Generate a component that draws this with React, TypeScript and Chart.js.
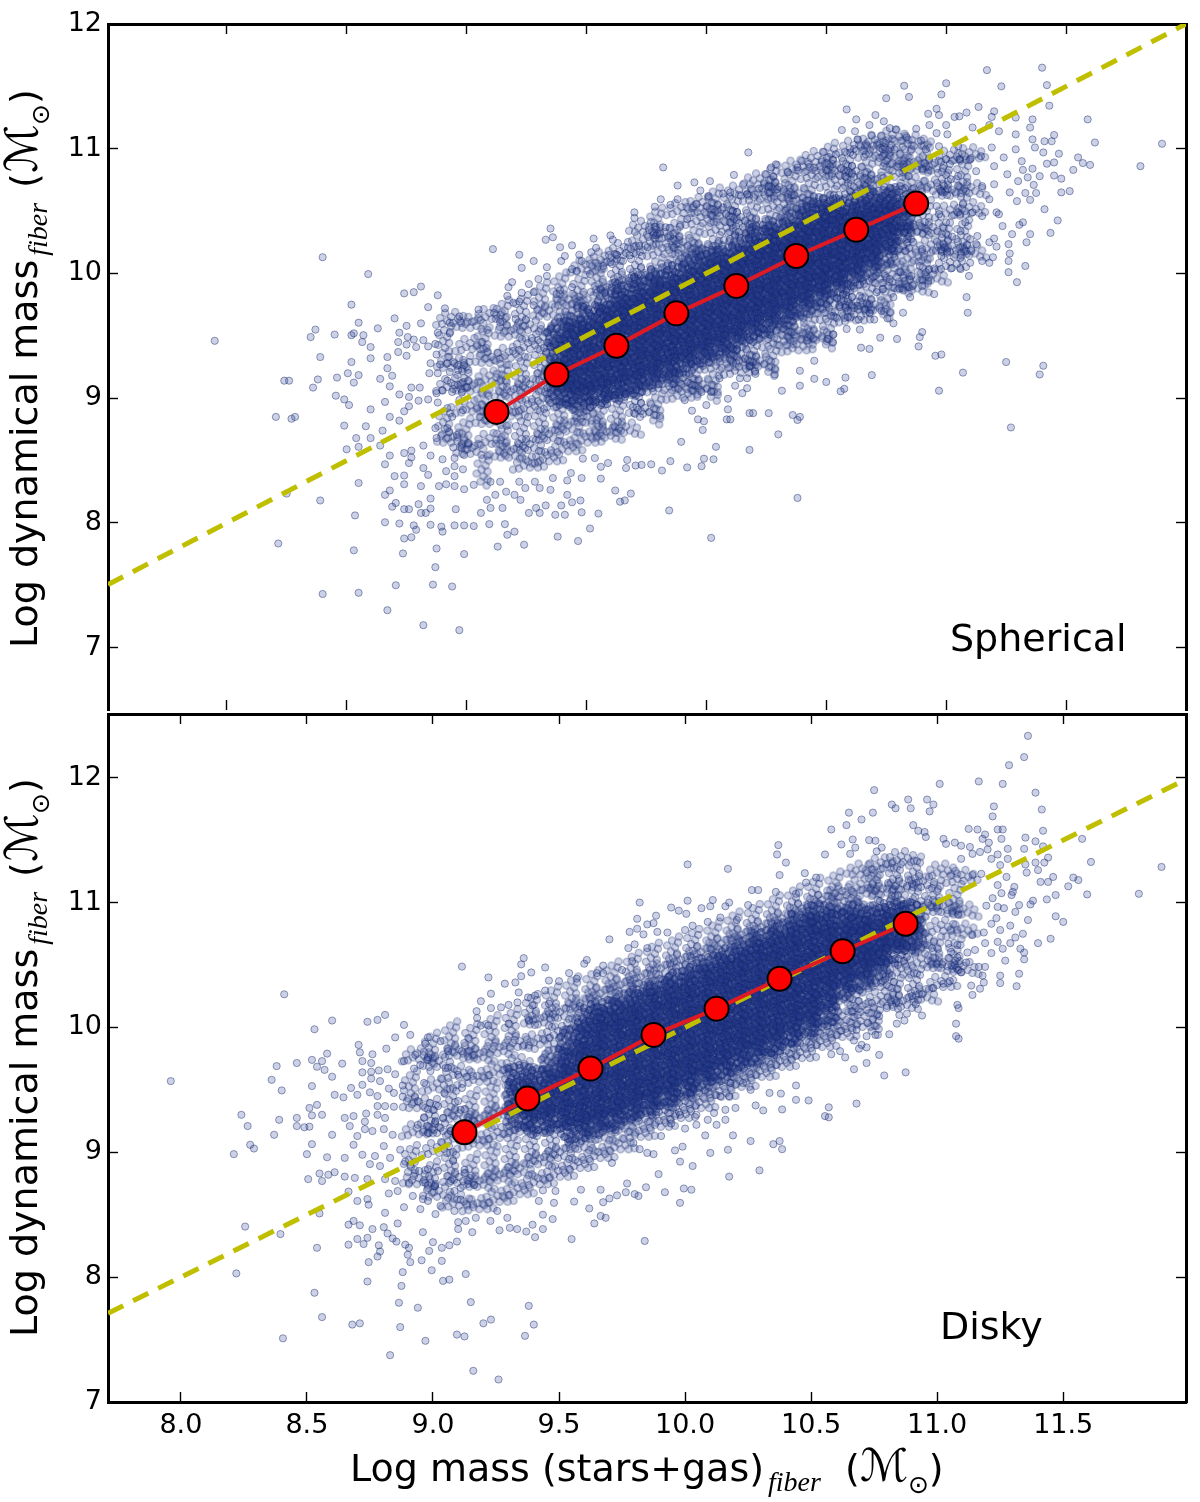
import React, { useEffect, useRef } from "react";
import { Chart, registerables } from "chart.js";
Chart.register(...registerables);

const medianX = [9.125, 9.375, 9.625, 9.875, 10.125, 10.375, 10.625, 10.875];
const topMedianY = [8.89, 9.19, 9.42, 9.68, 9.9, 10.14, 10.35, 10.56];
const bottomMedianY = [9.16, 9.43, 9.67, 9.94, 10.15, 10.39, 10.61, 10.83];
const xTickValues = [8, 8.5, 9, 9.5, 10, 10.5, 11, 11.5];
const topYTicks = [7, 8, 9, 10, 11, 12];
const bottomYTicks = [7, 8, 9, 10, 11, 12];

// x,y pairs
const topFringe = [
8.40,10.13,8.59,9.995,7.95,9.46,8.74,9.84,8.78,9.85,8.81,9.895,8.88,9.825,8.52,9.75,8.84,9.73,8.91,9.72,8.70,9.64,8.55,9.605,8.63,9.56,8.75,9.58,8.81,9.60,8.37,9.55,8.35,9.49,8.45,9.51,8.52,9.505,8.53,9.52,8.57,9.505,8.565,9.45,8.60,9.41,8.72,9.525,8.755,9.49,8.715,9.45,8.75,9.43,8.78,9.47,8.82,9.465,8.79,9.41,8.84,9.415,8.87,9.435,8.88,9.525,8.93,9.605,8.97,9.655,8.93,9.52,8.715,9.37,8.75,9.34,8.67,9.33,8.60,9.32,8.39,9.33,8.52,9.29,8.67,9.24,8.69,9.18,8.505,9.20,8.55,9.185,8.53,9.125,8.46,9.165,8.38,9.15,8.36,9.085,8.24,9.14,8.26,9.14,8.64,9.155,8.68,9.095,8.455,9.02,8.49,8.99,8.51,8.945,8.60,8.91,8.205,8.85,8.27,8.835,8.285,8.85,8.49,8.78,8.58,8.775,8.65,8.74,8.54,8.68,8.60,8.68,8.55,8.61,8.50,8.59,8.64,8.62,8.68,8.85,8.72,8.82,8.66,8.97,8.72,9.03,8.76,9.01,8.80,8.98,8.84,8.99,8.76,8.935,8.74,8.895,8.805,9.085,8.77,9.085,8.68,8.54,8.66,8.47,8.74,8.56,8.77,8.58,8.77,8.525,8.76,8.48,8.82,8.62,8.85,8.54,8.90,8.51,8.82,8.44,8.84,8.385,8.74,8.38,8.70,8.375,8.74,8.31,8.81,8.295,8.55,8.32,8.39,8.18,8.25,8.235,8.68,8.26,8.66,8.225,8.85,8.195,8.535,8.06,8.705,8.16,8.69,8.13,8.74,8.11,8.76,8.11,8.80,8.15,8.85,8.115,8.81,8.08,8.83,8.08,8.955,8.11,8.66,8.005,8.72,7.995,8.78,7.98,8.79,7.945,8.85,7.985,8.895,7.97,8.90,7.93,8.95,7.98,8.99,7.98,8.74,7.875,8.77,7.885,8.215,7.835,8.53,7.78,8.735,7.755,8.875,7.795,8.99,7.75,8.87,7.645,8.705,7.5,8.86,7.505,8.94,7.49,8.40,7.43,8.55,7.44,8.67,7.30,8.82,7.18,8.97,7.14,
8.85,9.28,8.875,9.35,8.89,9.27,8.92,9.28,8.95,9.28,8.99,9.265,8.93,9.21,8.965,9.225,8.88,9.20,8.845,9.20,8.92,9.14,8.95,9.105,8.875,9.04,8.90,9.06,8.94,9.05,8.98,9.045,8.88,8.965,8.92,8.92,8.94,8.85,8.97,8.985,8.985,8.905,8.87,8.76,8.92,8.76,8.96,8.705,8.98,8.60,8.875,8.68,8.945,8.605,8.95,8.52,8.99,8.545,8.915,8.415,8.95,8.455,8.985,8.43,8.95,8.375,8.885,8.295,8.915,8.31,8.95,8.295,8.99,8.27,
9.11,10.195,9.22,10.15,9.28,10.10,9.23,10.045,9.35,10.36,9.36,10.29,9.33,10.27,9.39,10.21,9.44,10.225,9.53,10.28,9.54,10.205,9.60,10.305,9.61,10.27,9.41,10.14,9.395,10.10,9.47,10.15,9.52,10.17,9.48,10.10,9.335,10.05,9.44,10.035,9.30,9.955,9.335,9.98,9.19,9.93,9.175,9.89,9.26,9.915,9.28,9.85,9.17,9.82,9.23,9.845,9.195,9.765,9.22,9.775,9.28,9.745,9.05,9.71,9.115,9.685,9.14,9.61,9.205,9.635,9.70,10.49,9.70,10.445,9.82,10.85,9.785,10.535,9.81,10.595,9.85,10.55,9.88,10.705,9.95,10.73,10.015,10.74,9.975,10.665,10.115,10.79,10.175,10.97,10.29,10.875,10.27,10.85,10.38,10.85,10.34,10.81,10.45,10.85,10.28,10.775,10.07,10.64,10.10,10.65,10.01,10.62,9.88,10.595,10.17,10.635,10.22,10.68,10.295,10.675,10.26,10.695,9.96,10.555,10.07,10.53,10.11,10.50,9.785,10.375,9.79,10.305,9.83,10.37,9.85,10.30,9.89,10.375,9.92,10.435,9.72,10.22,9.755,10.21,9.625,10.15,9.68,10.145,9.57,10.06,9.60,10.09,9.515,9.995,9.46,10.02,9.39,9.865,9.44,9.89,9.375,9.835,
10.45,9.30,10.39,9.22,10.45,9.155,10.39,9.10,10.315,9.06,10.285,9.19,10.205,9.195,10.18,9.26,10.14,9.16,10.17,9.16,10.12,9.10,10.17,9.08,10.15,9.04,10.09,8.995,10.09,8.91,10.26,8.88,10.18,8.88,10.195,8.88,10.36,8.865,10.39,8.85,10.38,8.825,10.30,8.71,10.18,8.585,10.085,8.83,10.10,8.83,9.94,8.90,9.965,8.83,9.99,8.815,9.985,8.745,10.0,8.945,10.055,9.16,10.02,9.05,9.98,9.05,9.91,8.985,9.895,8.65,10.04,8.61,9.99,8.515,10.03,8.51,9.98,8.455,9.92,8.445,9.85,8.495,9.815,8.42,9.77,8.47,9.73,8.465,9.705,8.46,9.665,8.44,9.67,8.505,9.59,8.48,9.56,8.45,9.535,8.52,9.485,8.515,9.435,8.40,9.48,8.36,9.56,8.355,9.42,8.34,9.36,8.36,9.35,8.265,9.62,8.26,9.685,8.235,9.66,8.18,9.64,8.17,9.475,8.18,9.44,8.165,9.42,8.225,9.395,8.14,9.48,8.085,9.55,8.075,9.41,8.065,9.37,8.065,9.33,8.14,9.29,8.12,9.26,8.08,9.305,8.08,9.515,7.955,9.845,8.10,10.38,8.20,10.02,7.88,9.38,7.89,9.465,7.855,9.20,7.93,9.17,7.905,9.16,7.99,9.095,7.99,9.03,7.975,9.06,8.08,9.15,8.12,9.10,8.12,9.225,8.185,9.20,8.225,9.085,8.185,9.12,8.225,9.165,8.25,9.245,8.28,9.285,8.33,9.305,8.28,9.22,8.33,9.14,8.33,9.03,8.305,9.10,8.33,9.13,7.81,9.24,7.825,
11.17,11.63,11.40,11.65,11.42,11.51,11.23,11.50,11.0,11.525,10.98,11.435,10.825,11.505,10.845,11.415,10.75,11.405,10.585,11.315,10.705,11.27,10.625,11.235,10.565,11.15,10.62,11.14,10.68,11.19,10.63,11.075,10.69,11.105,10.74,11.22,10.765,11.165,10.79,11.155,10.875,11.16,10.835,11.09,10.895,11.065,10.96,11.32,10.925,11.28,10.97,11.27,10.93,11.19,11.0,11.19,11.035,11.255,11.085,11.29,11.055,11.26,11.135,11.335,11.20,11.30,11.19,11.255,11.43,11.345,11.29,11.25,11.36,11.235,11.59,11.235,11.35,11.17,11.22,11.14,11.11,11.17,11.18,11.19,11.29,11.115,11.36,11.075,11.41,11.06,11.44,11.06,11.45,11.11,11.62,11.05,11.90,11.04,11.81,10.86,11.55,10.93,11.57,10.885,11.60,10.87,11.53,10.83,11.47,10.96,11.45,10.89,11.42,10.88,11.405,10.97,11.37,11.01,11.29,10.995,11.24,10.93,11.315,10.90,11.36,10.84,11.32,10.83,11.255,10.795,11.39,10.78,11.45,10.785,11.48,10.76,11.34,10.77,11.30,10.74,11.365,10.71,11.33,10.645,11.375,10.645,11.48,10.65,11.515,10.66,11.35,10.59,11.295,10.58,11.265,10.65,11.41,10.515,11.465,10.425,11.435,10.325,11.35,10.315,11.32,10.41,11.305,10.39,11.335,10.25,11.275,10.315,11.235,10.38,11.21,10.49,11.18,10.595,11.26,10.235,11.265,10.16,11.26,10.10,11.33,10.06,11.26,10.01,11.295,9.93,11.195,10.13,11.15,10.10,11.18,10.085,11.10,10.085,11.105,10.18,11.075,10.195,11.06,10.125,11.125,10.235,11.18,10.25,11.21,10.215,11.20,10.28,11.13,10.30,11.10,10.275,11.06,10.34,11.025,10.295,11.005,10.175,10.98,10.14,11.02,10.04,11.06,10.035,11.095,9.98,10.95,10.04,10.89,10.06,10.925,9.94,10.95,9.835,11.085,9.81,11.09,9.685,10.85,9.81,10.805,9.88,10.78,9.81,10.82,9.685,10.78,9.60,10.73,9.70,10.755,9.64,10.70,9.63,10.68,9.685,10.63,9.74,10.59,9.65,10.635,9.63,10.64,9.55,10.585,9.555,10.53,9.51,10.505,9.475,10.725,9.485,10.795,9.475,10.90,9.53,10.89,9.49,10.885,9.415,10.645,9.405,10.68,9.395,10.955,9.34,10.98,9.35,11.25,9.29,11.405,9.26,11.39,9.19,11.07,9.205,10.69,9.185,10.58,9.165,10.575,9.075,10.56,9.055,10.50,9.13,10.97,9.06,11.27,8.765,
11.10,10.915,11.145,10.94,11.19,11.01,11.20,10.86,11.125,10.82,11.15,10.70,11.20,10.715,11.07,10.555,11.05,10.49,11.0,10.41,10.97,10.475,11.15,10.46,11.22,10.475,11.11,10.49,11.08,10.41,11.055,10.915,11.02,10.755,11.05,10.78,10.985,10.65,10.96,10.54,11.0,10.915,10.96,11.125,11.005,11.115,11.05,11.02,10.97,11.02,10.915,10.995,10.855,10.995,10.785,10.995,10.735,10.995,10.665,10.955,10.6,10.97,10.54,10.955,10.90,10.195,10.99,10.21,10.86,9.90,10.90,9.90,10.915,10.01,10.855,9.98,10.81,10.01,10.735,9.875,10.68,9.755,10.64,9.82,10.585,9.85,10.53,9.66,10.555,9.745,10.71,9.85,10.765,9.955
];

const topMidX = [8.94,9.02,9.10,9.18,9.26,9.34,9.42,9.50,9.58,9.66,9.74,9.82,9.90,9.98,10.06,10.14,10.22,10.30,10.38,10.46,10.54,10.62,10.70,10.78,10.86,10.94,11.02,11.10];
const topMidY = [
[8.62,8.8,9.05,9.22,9.45,9.58],[8.53,8.71,8.87,9.03,9.21,9.37,9.54],[8.42,8.61,8.77,8.94,9.11,9.26,9.44,9.61],[8.5,8.66,8.83,8.98,9.14,9.3,9.47,9.66],
[8.42,8.56,8.72,8.88,9.04,9.2,9.37,9.52,9.7],[8.47,8.64,8.8,8.96,9.12,9.29,9.45,9.63,9.8],[8.55,8.71,8.87,9.03,9.2,9.38,9.55,9.72,9.88],[8.62,8.78,8.93,9.1,9.72,9.86,10.0],
[8.66,8.82,8.97,9.82,9.96,10.07],[8.7,8.86,9.01,9.88,10.02,10.14],[8.85,8.97,9.08,9.93,10.06,10.2,10.31],[8.91,9.04,9.14,10.0,10.13,10.26,10.4],
[8.98,9.09,9.2,10.05,10.18,10.31,10.46],[9.04,9.15,9.26,10.12,10.25,10.38,10.5],[9.1,9.22,9.33,10.18,10.31,10.44,10.56],[9.18,9.28,9.4,10.26,10.38,10.5,10.6],
[9.23,9.34,9.45,10.32,10.45,10.57,10.69],[9.3,9.4,9.52,10.38,10.5,10.62,10.74],[9.36,9.47,9.58,10.45,10.57,10.7,10.8],[9.44,9.55,9.66,10.5,10.63,10.75,10.87],
[9.52,9.62,9.73,10.55,10.68,10.8,10.92],[9.6,9.7,9.82,10.62,10.75,10.87,10.96],[9.68,9.8,9.9,10.68,10.8,10.92,11.0],[9.76,9.86,9.97,10.55,10.75,10.86,10.95,11.04],
[9.84,9.96,10.08,10.3,10.5,10.66,10.82,10.9,11.0],[9.92,10.04,10.16,10.3,10.46,10.64,10.8,10.93],[10.02,10.15,10.28,10.44,10.6,10.75,10.88],[10.12,10.3,10.46,10.62,10.78,10.9]
];
const topCoreX = [9.40,9.47,9.54,9.61,9.68,9.75,9.82,9.89,9.96,10.03,10.10,10.17,10.24,10.31,10.38,10.45,10.52,10.59,10.66,10.73,10.80];
const topCoreY = [
[9.05,9.2,9.35,9.5],[9.02,9.18,9.32,9.46,9.6],[9.05,9.2,9.34,9.48,9.62],[9.1,9.24,9.38,9.52,9.64,9.76],
[9.14,9.28,9.41,9.55,9.68,9.81],[9.2,9.33,9.47,9.6,9.73,9.86],[9.27,9.4,9.53,9.66,9.79,9.92],[9.31,9.45,9.58,9.71,9.84,9.97],
[9.38,9.51,9.64,9.77,9.9,10.03],[9.44,9.57,9.7,9.83,9.96,10.09],[9.5,9.63,9.76,9.89,10.01,10.13],[9.57,9.7,9.83,9.95,10.08,10.2],
[9.63,9.76,9.88,10.01,10.14,10.26],[9.7,9.83,9.96,10.08,10.2,10.32],[9.76,9.9,10.02,10.15,10.27,10.39],[9.84,9.96,10.09,10.21,10.33,10.45],
[9.92,10.03,10.15,10.27,10.39,10.5],[10.0,10.12,10.24,10.37,10.49],[10.08,10.2,10.33,10.44,10.56],[10.17,10.3,10.42,10.55],[10.3,10.45,10.58]
];

const bottomFringe = [
8.41,10.265,7.96,9.57,8.53,9.985,8.60,10.055,8.74,10.045,8.78,10.06,8.81,10.10,8.885,10.02,8.91,9.94,8.85,9.92,8.98,9.92,8.97,9.87,8.705,9.86,8.815,9.83,8.71,9.80,8.76,9.785,8.58,9.79,8.52,9.74,8.56,9.73,8.46,9.715,8.38,9.69,8.54,9.685,8.57,9.66,8.64,9.71,8.60,9.605,8.36,9.58,8.40,9.495,8.52,9.53,8.72,9.73,8.755,9.715,8.72,9.64,8.755,9.645,8.785,9.655,8.82,9.665,8.85,9.625,8.885,9.73,8.925,9.67,8.95,9.70,8.93,9.78,8.98,9.76,8.99,9.65,8.755,9.59,8.79,9.57,8.72,9.54,8.675,9.515,8.61,9.46,8.645,9.44,8.70,9.46,8.75,9.48,8.78,9.45,8.825,9.51,8.88,9.535,8.845,9.475,8.88,9.445,8.78,9.37,8.81,9.37,8.845,9.365,8.24,9.30,8.265,9.21,8.39,9.26,8.37,9.14,8.51,9.355,8.54,9.38,8.52,9.295,8.56,9.30,8.46,9.275,8.46,9.21,8.49,9.20,8.51,9.205,8.60,9.14,8.65,9.275,8.685,9.29,8.67,9.21,8.735,9.31,8.78,9.30,8.81,9.275,8.73,9.245,8.73,9.185,8.76,9.17,8.805,9.185,8.84,9.14,8.70,9.13,8.685,9.06,8.52,9.065,8.275,9.06,8.29,9.03,8.21,8.985,8.50,8.985,8.58,8.96,8.65,8.955,8.72,8.98,8.77,8.97,8.805,9.05,8.83,8.955,8.75,8.905,8.79,8.89,8.87,9.02,8.89,8.925,8.91,8.90,8.945,8.85,8.55,8.83,8.505,8.785,8.56,8.77,8.585,8.82,8.61,8.84,8.65,8.805,8.69,8.795,8.74,8.785,8.81,8.785,8.85,8.77,8.665,8.685,8.70,8.61,8.74,8.625,8.745,8.58,8.825,8.67,8.86,8.69,8.905,8.755,8.92,8.65,8.96,8.625,8.885,8.56,8.81,8.515,8.86,8.43,8.55,8.51,8.395,8.345,8.255,8.405,8.685,8.45,8.665,8.42,8.71,8.415,8.76,8.385,8.805,8.40,8.82,8.35,8.84,8.31,8.855,8.285,8.74,8.315,8.70,8.305,8.725,8.265,8.665,8.26,8.54,8.235,8.785,8.255,8.79,8.205,8.78,8.165,8.745,8.12,8.89,8.26,8.905,8.235,8.90,8.18,8.91,8.12,8.96,8.36,9.0,8.28,8.985,8.21,8.955,8.135,9.035,8.235,9.065,8.255,9.095,8.285,9.035,8.13,8.22,8.03,8.53,7.875,8.74,7.965,8.88,8.04,8.875,7.93,8.995,8.055,9.04,7.97,9.065,7.98,9.13,8.025,8.865,7.795,8.94,7.755,8.56,7.68,8.68,7.62,8.71,7.63,8.87,7.60,8.97,7.49,8.405,7.51,8.83,7.375,9.095,7.54,9.125,7.525,9.115,10.487,9.16,7.25,9.26,7.18,9.365,7.53,9.40,7.62,9.38,7.77,9.23,7.66,9.20,7.63,9.15,7.8,
8.965,9.28,9.01,9.25,9.04,9.275,9.07,9.17,8.98,9.155,8.94,9.22,9.03,9.195,9.11,9.34,9.10,9.41,9.02,9.37,8.94,9.41,8.965,9.555,9.045,9.475,9.05,9.675,9.06,9.81,9.03,9.89,9.10,9.62,9.115,9.515,9.115,9.81,9.02,8.85,9.08,8.93,8.98,8.865,9.01,8.745,8.97,8.755,9.07,8.77,9.11,8.715,9.085,8.69,9.125,8.86,8.98,8.61,8.95,8.545,9.03,8.57,9.085,8.53,9.11,8.62,9.01,8.505,9.10,8.44,9.10,8.385,9.13,8.45,
10.37,11.46,10.365,11.385,10.40,11.32,10.01,11.305,10.17,11.27,10.375,11.22,10.555,11.385,10.475,11.235,10.52,11.20,10.48,11.16,10.265,11.10,10.29,11.10,10.36,11.085,10.44,11.07,10.01,11.015,10.11,11.02,10.175,11.0,9.82,11.0,9.945,10.96,9.975,10.935,10.005,10.91,10.065,10.955,10.10,10.97,10.16,10.97,10.25,10.98,9.81,10.87,9.885,10.895,9.875,10.835,9.85,10.825,9.78,10.765,9.81,10.79,9.835,10.745,9.89,10.765,9.93,10.76,9.70,10.705,10.0,10.78,10.03,10.815,10.09,10.845,10.14,10.88,10.205,10.86,9.775,10.635,9.80,10.665,9.85,10.635,9.36,10.555,9.35,10.505,9.445,10.48,9.61,10.54,9.60,10.51,9.22,10.40,9.285,10.35,9.327,10.36,9.35,10.41,9.39,10.44,9.54,10.435,9.675,10.495,9.65,10.435,9.57,10.39,9.675,10.435,9.75,10.46,9.79,10.53,9.46,10.375,9.50,10.37,9.445,10.295,9.34,10.28,9.19,10.21,9.23,10.27,9.377,10.24,9.405,10.255,9.335,10.20,9.395,10.175,9.46,10.19,9.23,10.155,9.27,10.16,9.30,10.18,9.173,10.13,9.175,10.075,9.19,10.015,9.22,10.015,9.30,10.03,9.38,10.06,9.14,9.915,
10.44,9.535,10.49,9.415,10.44,9.42,10.38,9.47,10.385,9.343,10.555,9.29,10.335,9.475,10.31,9.335,10.28,9.375,10.26,9.50,10.23,9.555,10.18,9.555,10.20,9.355,10.16,9.34,10.175,9.45,10.14,9.45,10.115,9.315,10.16,9.26,10.09,9.26,10.045,9.30,9.98,9.30,10.045,9.22,10.125,9.22,10.0,9.19,9.945,9.23,9.905,9.13,10.08,9.135,10.19,9.135,10.26,9.09,10.35,9.065,10.375,9.09,10.385,9.025,10.17,9.02,10.10,8.995,9.99,9.045,9.96,9.015,9.98,8.925,10.03,8.89,9.895,8.825,10.175,8.805,10.295,8.855,9.82,9.025,9.795,9.075,9.85,8.995,9.875,8.985,9.71,8.915,9.77,8.75,9.845,8.72,9.80,8.665,9.765,8.68,9.73,8.655,9.70,8.63,9.92,8.68,9.995,8.71,10.025,8.70,9.98,8.595,9.815,8.65,9.665,8.70,9.675,8.60,9.587,8.70,9.62,8.55,9.56,8.605,9.486,8.69,9.436,8.695,9.48,8.595,9.685,8.475,9.64,8.43,9.665,8.49,9.475,8.465,9.436,8.50,9.42,8.61,9.55,8.305,9.436,8.385,9.395,8.42,9.37,8.365,9.334,8.385,9.305,8.395,9.264,8.375,9.228,8.45,9.295,8.475,9.255,8.53,9.405,8.32,9.84,8.29,9.156,8.36,9.17,8.475,
11.36,12.335,11.345,12.165,11.285,12.10,11.165,11.97,11.26,11.95,11.01,11.95,11.39,11.88,10.75,11.90,10.82,11.785,10.885,11.825,10.96,11.825,10.985,11.785,10.835,11.755,10.895,11.755,10.97,11.73,10.65,11.72,10.745,11.72,10.70,11.665,10.64,11.62,10.58,11.585,11.225,11.77,11.22,11.69,11.415,11.745,10.905,11.62,11.125,11.59,11.16,11.585,11.24,11.585,11.26,11.585,11.42,11.575,11.19,11.545,11.18,11.51,11.255,11.51,11.35,11.52,11.575,11.51,11.39,11.49,10.925,11.575,10.95,11.565,10.955,11.525,10.665,11.505,10.73,11.50,10.755,11.495,10.62,11.465,10.675,11.44,10.78,11.44,10.76,11.41,10.655,11.39,11.025,11.51,11.035,11.47,11.07,11.48,11.095,11.455,11.13,11.445,11.205,11.48,11.20,11.425,11.17,11.405,11.14,11.39,11.095,11.35,11.24,11.385,11.28,11.43,11.345,11.43,11.42,11.45,11.44,11.36,11.28,11.35,11.61,11.325,11.89,11.285,11.39,11.32,11.425,11.32,11.35,11.305,11.40,11.26,11.355,11.24,11.215,11.35,11.25,11.30,11.175,11.23,11.14,11.22,11.24,11.14,11.275,11.205,11.46,11.205,11.44,11.165,11.41,11.165,11.54,11.20,11.56,11.18,11.52,11.13,11.306,11.125,11.30,11.085,11.295,11.06,11.47,11.06,11.435,11.025,11.595,11.065,11.80,11.07,11.38,11.015,11.37,10.985,11.325,10.98,11.31,10.925,11.265,10.955,11.24,10.965,11.195,10.975,11.22,11.035,11.255,11.075,11.47,10.89,11.50,10.845,11.36,10.86,11.235,10.875,11.215,10.83,11.29,10.815,11.34,10.75,11.31,10.72,11.25,10.78,11.185,10.76,11.14,10.74,11.45,10.71,11.40,10.675,11.29,10.675,11.33,10.63,11.345,10.60,11.345,10.545,11.26,10.63,11.215,10.595,11.24,10.685,11.19,10.675,11.15,10.62,11.12,10.60,11.08,10.66,11.045,10.67,11.055,10.605,11.08,10.56,11.115,10.52,11.27,10.535,11.07,10.50,11.02,10.505,11.165,10.485,11.19,10.485,11.325,10.43,11.095,10.44,11.18,10.415,11.25,10.415,11.25,10.355,11.185,10.36,11.135,10.335,11.17,10.31,11.315,10.33,11.14,10.26,11.05,10.37,11.025,10.35,10.985,10.315,10.94,10.265,11.08,10.18,11.085,10.155,10.94,10.095,11.075,10.03,11.075,9.93,11.085,9.91,10.87,10.055,10.88,10.11,10.915,10.185,10.84,10.03,10.85,10.10,10.81,9.945,10.755,9.94,10.72,9.93,10.62,9.975,10.68,9.98,10.77,10.09,10.80,10.155,10.72,9.84,10.77,9.78,10.70,9.86,10.67,9.895,10.69,9.83,10.635,9.76,10.615,9.81,10.58,9.785,10.72,9.715,10.67,9.665,10.79,9.615,10.875,9.64,10.68,9.39,10.57,9.36,10.57,9.28
];

const bottomMidX = [8.94,9.02,9.10,9.18,9.26,9.34,9.42,9.50,9.58,9.66,9.74,9.82,9.90,9.98,10.06,10.14,10.22,10.30,10.38,10.46,10.54,10.62,10.70,10.78,10.86,10.94,11.02,11.10];
const bottomMidY = [
[8.72,8.93,9.12,9.33,9.52,9.72],[8.62,8.8,8.97,9.13,9.3,9.48,9.66,9.83],[8.55,8.73,8.9,9.07,9.24,9.41,9.58,9.75,9.92],[8.52,8.7,8.86,9.03,9.2,9.37,9.54,9.72,9.9],
[8.58,8.75,8.92,9.09,9.26,9.43,9.6,9.77,9.97],[8.64,8.8,8.97,9.14,9.3,9.48,9.65,9.82,10.02],[8.72,8.88,9.05,9.84,10.0,10.14],[8.78,8.93,9.1,9.9,10.05,10.2],
[8.85,9.0,9.15,9.97,10.12,10.28],[8.93,9.08,9.22,10.05,10.2,10.33],[9.0,9.15,9.28,10.12,10.27,10.4],[9.1,9.23,9.36,10.2,10.33,10.47],
[9.18,9.3,9.42,10.27,10.4,10.55],[9.25,9.37,9.48,10.34,10.47,10.6],[9.33,9.45,9.56,10.4,10.53,10.66],[9.42,9.54,9.65,10.47,10.6,10.72],
[9.5,9.61,9.72,10.54,10.67,10.8],[9.58,9.69,9.8,10.6,10.73,10.86],[9.66,9.77,9.88,10.68,10.8,10.93],[9.73,9.85,9.96,10.76,10.88,11.0],
[9.82,9.93,10.04,10.83,10.95,11.07],[9.9,10.02,10.13,10.9,11.02,11.12],[9.98,10.1,10.22,10.5,10.75,10.97,11.08,11.2],[10.06,10.18,10.3,10.6,10.85,11.04,11.14,11.25],
[10.14,10.27,10.4,10.6,10.8,10.95,11.08,11.18,11.3],[10.2,10.34,10.48,10.62,10.78,10.94,11.1,11.24],[10.3,10.45,10.6,10.75,10.9,11.05,11.2],[10.42,10.58,10.72,10.88,11.02,11.15]
];
const bottomCoreX = [9.35,9.42,9.49,9.56,9.63,9.70,9.77,9.84,9.91,9.98,10.05,10.12,10.19,10.26,10.33,10.40,10.47,10.54,10.61,10.68,10.75,10.82,10.89];
const bottomCoreY = [
[9.3,9.45,9.58],[9.26,9.4,9.55],[9.3,9.44,9.57,9.71],[9.21,9.34,9.47,9.61,9.75,9.88],
[9.26,9.39,9.53,9.66,9.8,9.93,10.06],[9.3,9.43,9.57,9.7,9.84,9.97,10.1],[9.37,9.5,9.63,9.76,9.9,10.03,10.16],[9.42,9.55,9.68,9.82,9.95,10.08,10.21],
[9.48,9.61,9.74,9.88,10.01,10.14,10.27],[9.55,9.68,9.81,9.94,10.07,10.2,10.33],[9.62,9.75,9.88,10.0,10.13,10.26,10.39],[9.69,9.82,9.95,10.08,10.2,10.33,10.46],
[9.77,9.9,10.02,10.14,10.27,10.4,10.53],[9.83,9.96,10.09,10.21,10.34,10.47,10.6],[9.9,10.03,10.15,10.28,10.4,10.53,10.66],[9.97,10.1,10.23,10.35,10.47,10.6,10.73],
[10.05,10.18,10.3,10.42,10.54,10.67,10.8],[10.13,10.26,10.38,10.5,10.62,10.74,10.87],[10.33,10.45,10.57,10.69,10.82],[10.4,10.52,10.64,10.76,10.88],[10.48,10.6,10.72,10.85],[10.62,10.76,10.9],[10.72,10.88]
];

// marker glyph for one clump of overlapping circles (style only, px offsets from the clump centre)
const clumpShape = [
-3,-14,7,-13,-11,-10,1,-9,12,-8,-6,-7,5,-5,-15,-4,-9,-3,-1,-3,10,-2,16,-1,-13,1,-5,1,3,1,8,3,-10,5,-2,5,13,5,-15,7,4,7,-7,9,0,10,9,9,-12,11,-3,13,5,13,-6,15,2,-15,-8,-13,14,-12,-1,-6,8,-7,-13,-6,-5,-1,4,-1,12,2,-3,9,6,11,11,12
];

function makeClump(count: number, mirror: number, fillA: number, edgeA: number) {
  const size = 44;
  const c = document.createElement("canvas");
  c.width = size; c.height = size;
  const g = c.getContext("2d")!;
  for (let i = 0; i < count; i++) {
    let dx = clumpShape[2 * i], dy = clumpShape[2 * i + 1];
    if (mirror === 1) { const t = dx; dx = dy; dy = -t; }
    if (mirror === 2) { dx = -dx; }
    g.beginPath();
    g.arc(size / 2 + dx, size / 2 + dy, 3.6, 0, Math.PI * 2);
    g.fillStyle = `rgba(40,62,148,${fillA})`;
    g.fill();
    g.lineWidth = 1;
    g.strokeStyle = `rgba(22,40,108,${edgeA})`;
    g.stroke();
  }
  return c;
}

function pairs(flat: number[]) {
  const out: { x: number; y: number }[] = [];
  for (let i = 0; i + 1 < flat.length; i += 2) out.push({ x: flat[i], y: flat[i + 1] });
  return out;
}
function columns(xs: number[], ys: number[][]) {
  return xs.flatMap((x, i) => ys[i].map((y) => ({ x, y })));
}

const FONT = "'DejaVu Sans'";
const tickFont = { family: FONT, size: 27 };

function axisGrid() {
  return { drawOnChartArea: false, drawTicks: true, tickLength: -10, tickWidth: 1.4, tickColor: "#000" };
}
const spine = { display: true, width: 3, color: "#000" };

function buildChart(canvas: HTMLCanvasElement, p: any) {
  const fix = (dim: "width" | "height", size: number) => (s: any) => {
    s[dim] = size;
    s.paddingTop = 0; s.paddingBottom = 0; s.paddingLeft = 0; s.paddingRight = 0;
  };
  const setTicks = (vals: number[]) => (s: any) => { s.ticks = vals.map((value) => ({ value })); };
  const linePts = p.medianY.map((y: number, i: number) => ({ x: medianX[i], y }));
  const midGlyphs = [makeClump(12, 0, 0.24, 0.42), makeClump(12, 1, 0.24, 0.42), makeClump(12, 2, 0.24, 0.42)];
  const coreGlyphs = [makeClump(40, 0, 0.34, 0.55), makeClump(40, 1, 0.34, 0.55), makeClump(40, 2, 0.34, 0.55)];
  return new Chart(canvas, {
    type: "scatter",
    data: {
      datasets: [
        { label: "median", data: linePts, showLine: true, borderColor: "#e01a22", borderWidth: 4, pointRadius: 12, pointBackgroundColor: "#ff0000", pointBorderColor: "#000", pointBorderWidth: 2 },
        { label: "one-to-one", data: [{ x: p.xMin, y: p.xMin }, { x: p.xMax, y: p.xMax }], showLine: true, borderColor: "#bfbf00", borderWidth: 5, borderDash: [17, 11], pointRadius: 0 },
        { label: "fringe", data: pairs(p.fringe), showLine: false, pointRadius: 3.6, pointBackgroundColor: "rgba(40,62,148,0.24)", pointBorderColor: "rgba(22,40,108,0.45)", pointBorderWidth: 1 },
        { label: "mid", data: columns(p.midX, p.midY), showLine: false, pointRadius: 4, pointStyle: (ctx: any) => midGlyphs[ctx.dataIndex % 3] },
        { label: "core", data: columns(p.coreX, p.coreY), showLine: false, pointRadius: 4, pointStyle: (ctx: any) => coreGlyphs[ctx.dataIndex % 3] },
      ],
    },
    options: {
      responsive: false,
      animation: false,
      layout: { padding: 0 },
      plugins: { legend: { display: false }, tooltip: { enabled: false } },
      scales: {
        x: {
          type: "linear", position: "bottom", min: p.xMin, max: p.xMax,
          afterBuildTicks: setTicks(xTickValues), afterFit: fix("height", p.bottomH),
          grid: axisGrid(), border: { ...spine, display: p.showX },
          ticks: { display: p.showX, font: tickFont, color: "#000", padding: 18, maxRotation: 0, autoSkip: false, callback: (v: any) => Number(v).toFixed(1) },
        },
        xTop: {
          type: "linear", axis: "x", position: "top", min: p.xMin, max: p.xMax,
          afterBuildTicks: setTicks(xTickValues), afterFit: fix("height", p.topH),
          grid: axisGrid(), border: spine, ticks: { display: false },
        },
        y: {
          type: "linear", position: "left", min: p.yMin, max: p.yMax,
          afterBuildTicks: setTicks(p.yTicks), afterFit: fix("width", 108),
          grid: axisGrid(), border: spine,
          ticks: { font: tickFont, color: "#000", padding: 16, autoSkip: false, callback: (v: any) => String(v) },
        },
        yRight: {
          type: "linear", axis: "y", position: "right", min: p.yMin, max: p.yMax,
          afterBuildTicks: setTicks(p.yTicks), afterFit: fix("width", 12),
          grid: axisGrid(), border: spine, ticks: { display: false },
        },
      },
    } as any,
  } as any);
}

const abs = (o: any) => ({ position: "absolute", fontFamily: FONT, fontSize: 38, color: "#000", whiteSpace: "pre", lineHeight: "44px", ...o });
const subFiber: any = { fontFamily: "'Liberation Serif'", fontStyle: "italic", fontSize: 28, position: "relative", top: 10, marginLeft: 4, lineHeight: 0 };
const subSun: any = { fontSize: 25, position: "relative", top: 12, lineHeight: 0 };

function Label({ head, gap, style }: { head: string; gap: number; style: any }) {
  return (
    <span style={abs(style)}>
      {head}
      <span style={subFiber}>fiber</span>
      <span style={{ marginLeft: gap }}>(</span>
      <span style={{ fontSize: 45, lineHeight: 0 }}>ℳ</span>
      <span style={subSun}>⊙</span>
      {")"}
    </span>
  );
}

export default function App() {
  const topRef = useRef<HTMLCanvasElement>(null);
  const botRef = useRef<HTMLCanvasElement>(null);
  useEffect(() => {
    const a = buildChart(topRef.current!, {
      xMin: 7.505, xMax: 12, yMin: 6.5, yMax: 12, yTicks: topYTicks, medianY: topMedianY,
      fringe: topFringe, midX: topMidX, midY: topMidY, coreX: topCoreX, coreY: topCoreY,
      showX: false, topH: 24, bottomH: 12,
    });
    const b = buildChart(botRef.current!, {
      xMin: 7.711, xMax: 11.987, yMin: 7, yMax: 12.51, yTicks: bottomYTicks, medianY: bottomMedianY,
      fringe: bottomFringe, midX: bottomMidX, midY: bottomMidY, coreX: bottomCoreX, coreY: bottomCoreY,
      showX: true, topH: 11, bottomH: 100,
    });
    return () => { a.destroy(); b.destroy(); };
  }, []);
  return (
    <div style={{ position: "absolute", left: 0, top: 0, width: 1200, height: 1502, background: "#fff", overflow: "hidden" }}>
      <canvas ref={botRef} width={1200} height={802} style={{ position: "absolute", left: 0, top: 700, width: 1200, height: 802 }} />
      <canvas ref={topRef} width={1200} height={724} style={{ position: "absolute", left: 0, top: 0, width: 1200, height: 724 }} />
      <span style={abs({ left: 950, top: 616 })}>Spherical</span>
      <span style={abs({ left: 940, top: 1304 })}>Disky</span>
      <Label head="Log mass (stars+gas)" gap={24} style={{ left: 350, top: 1446 }} />
      <Label head="Log dynamical mass" gap={15} style={{ left: 2, top: 648, transformOrigin: "0 0", transform: "rotate(-90deg)" }} />
      <Label head="Log dynamical mass" gap={15} style={{ left: 2, top: 1337, transformOrigin: "0 0", transform: "rotate(-90deg)" }} />
    </div>
  );
}
